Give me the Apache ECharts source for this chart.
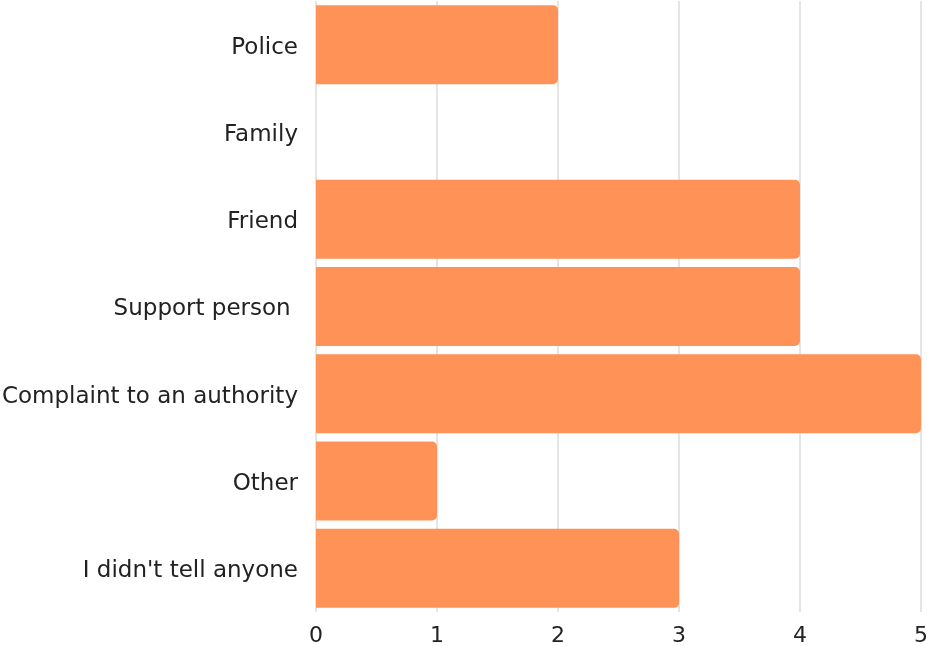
<!DOCTYPE html>
<html>
<head>
<meta charset="utf-8">
<script src="https://cdn.jsdelivr.net/npm/echarts@6/dist/echarts.min.js"></script>
<style>
  html, body { margin: 0; padding: 0; background: #fff; }
  #chart { width: 927px; height: 646px; }
</style>
</head>
<body>
<div id="chart"></div>
<script>
// Who people told, top to bottom
const categories = [
  "Police",
  "Family",
  "Friend",
  "Support person ",
  "Complaint to an authority",
  "Other",
  "I didn't tell anyone"
];
const counts = [2, 0, 4, 4, 5, 1, 3];
const xTicks = [0, 1, 2, 3, 4, 5];

const chart = echarts.init(document.getElementById('chart'), null, { renderer: 'canvas' });

chart.setOption({
  animation: false,
  grid: {
    left: 316, right: 6, top: 1, bottom: 34,
    containLabel: false,
    outerBoundsMode: 'none'
  },
  xAxis: {
    type: 'value',
    min: xTicks[0],
    max: xTicks[xTicks.length - 1],
    interval: 1,
    axisLine: { show: false },
    axisTick: { show: false },
    splitLine: { show: true, lineStyle: { color: '#dcdcdc', width: 1.5 } },
    axisLabel: {
      color: '#222',
      fontFamily: 'DejaVu Sans',
      fontSize: 22,
      margin: 13
    }
  },
  yAxis: {
    type: 'category',
    data: categories,
    inverse: true,
    axisLine: { show: false },
    axisTick: { show: false },
    splitLine: { show: false },
    axisLabel: {
      color: '#222',
      fontFamily: 'DejaVu Sans',
      fontSize: 23,
      margin: 18,
      verticalAlign: 'top',
      lineHeight: 6
    }
  },
  series: [{
    type: 'bar',
    data: counts,
    barCategoryGap: '9.5%',
    itemStyle: { color: '#FF9357', borderRadius: [0, 5, 5, 0] }
  }]
});
</script>
</body>
</html>
